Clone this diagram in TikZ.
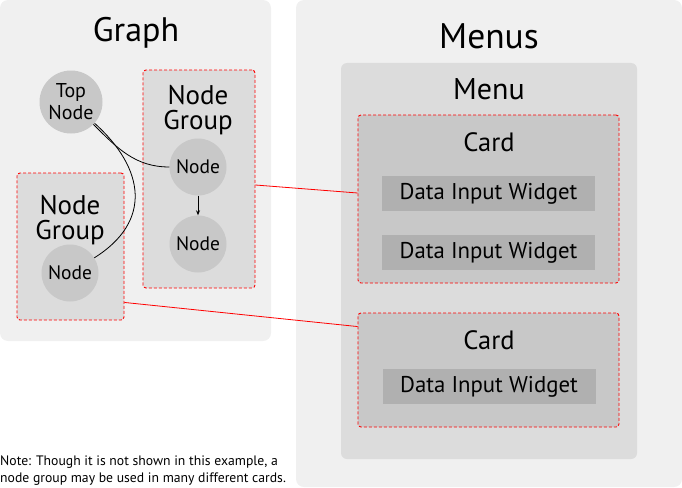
\documentclass[tikz,border=0pt]{standalone}
\usepackage{fontspec}
\setmainfont{PT Sans}
\usetikzlibrary{arrows.meta,positioning}
\definecolor{panelgray}{HTML}{F0F0F0}
\definecolor{menugray}{HTML}{DCDCDC}
\definecolor{cardgray}{HTML}{C8C8C8}
\definecolor{widgetgray}{HTML}{B0B0B0}

\begin{document}
\begin{tikzpicture}[x=1pt, y=-1pt,
  every node/.style={font=\fontsize{22.8}{24}\selectfont, inner sep=0pt},
  panel/.style={fill=panelgray, rounded corners=8pt},
  group/.style={draw=red, fill=menugray, line width=0.9pt, dash pattern=on 3pt off 2pt, rounded corners=3pt},
  card/.style={draw=red, fill=cardgray, line width=0.9pt, dash pattern=on 3pt off 2pt, rounded corners=3pt,
               minimum width=261pt},
  widget/.style={fill=widgetgray, minimum width=213pt, minimum height=35pt},
  gnode/.style={circle, fill=cardgray, minimum size=57pt, align=center,
                font=\fontsize{19.5}{22}\selectfont},
  grouplabel/.style={align=center, font=\fontsize{27}{25.5}\selectfont},
  link/.style={red, line width=0.8pt}]
  \useasboundingbox (0,0) rectangle (682,487);

  % graph side
  \node[panel, minimum width=271pt, minimum height=341pt] (graph) at (135.5,170.5) {};
  \node[font=\fontsize{34}{36}\selectfont] (graphtitle) at (136,33) {Graph};

  \node[group, minimum width=112pt, minimum height=218pt] (ngR) at (199,179) {};
  \node[grouplabel] (ngRlabel) at (198,110) {Node\\Group};
  \node[gnode] (na) at (198,167) {Node};
  \node[gnode] (nb) at (198,244) {Node};

  \node[group, minimum width=107pt, minimum height=147pt] (ngL) at (70.5,246.5) {};
  \node[grouplabel] (ngLlabel) at (70,220) {Node\\Group};
  \node[gnode] (nl) at (70,273) {Node};

  \node[gnode, minimum size=63pt, font=\fontsize{20}{22}\selectfont] (top) at (71,102) {Top\\Node};

  \draw[line width=0.8pt] (top) to[out=-45, in=180] (na);
  \draw[line width=0.8pt] (top) to[out=-42, in=32, looseness=1.3] (nl);
  \draw[-{Stealth[length=5pt,width=4pt]}, line width=0.8pt] (na) -- (nb);

  % menus side
  \node[panel, minimum width=386pt, minimum height=487pt] (menus) at (489,243.5) {};
  \node[font=\fontsize{35.5}{37}\selectfont] (menustitle) at (489,36) {Menus};

  \node[fill=menugray, rounded corners=6pt, minimum width=296pt, minimum height=396pt] (menu) at (489,261) {};
  \node[font=\fontsize{30}{32}\selectfont] (menulabel) at (489,89) {Menu};

  \node[card, minimum height=168pt] (card1) at (488.5,199) {};
  \node[font=\fontsize{26.5}{28}\selectfont] (card1label) at (489,142) {Card};
  \node[widget] (w1) at (488.5,193.5) {Data Input Widget};
  \node[widget] (w2) at (488.5,252.5) {Data Input Widget};

  \node[card, minimum height=114pt] (card2) at (488.5,370) {};
  \node[font=\fontsize{26.5}{28}\selectfont] (card2label) at (489,340) {Card};
  \node[widget] (w3) at (489,386.5) {Data Input Widget};

  % links between groups and cards
  \draw[link] ([yshift=-6pt]ngR.east) -- ([yshift=6pt]card1.west);
  \draw[link] ([yshift=18pt]ngL.south east) -- ([yshift=-14pt]card2.north west);

  \node[anchor=south west, align=left, font=\fontsize{13.7}{17}\selectfont] (note) at (0,486)
    {Note: Though it is not shown in this example, a\\node group may be used in many different cards.};
\end{tikzpicture}
\end{document}
